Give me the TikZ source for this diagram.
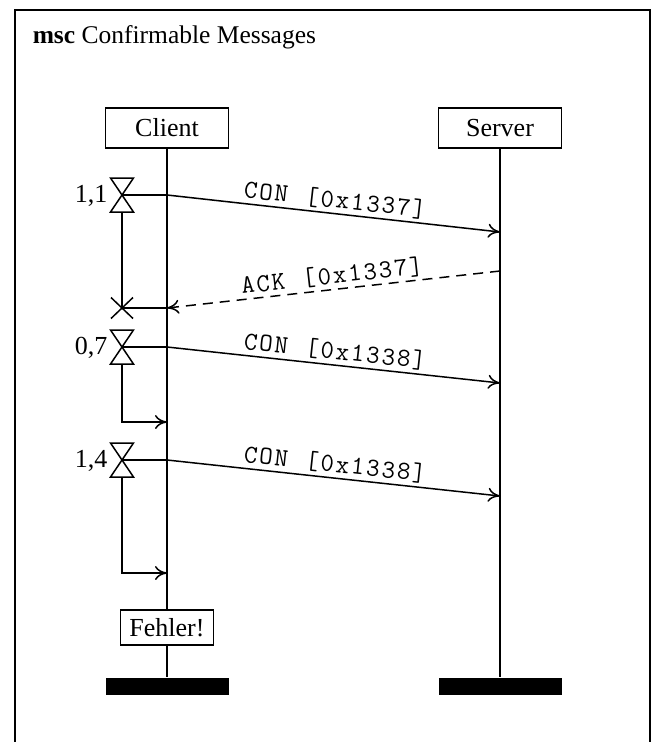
\documentclass[tikz,border=0pt]{standalone}
\usepackage{fontspec}
\setmainfont{Liberation Serif}
\usetikzlibrary{arrows.meta,calc}
\newcommand\spcd[1]{\xspcd#1\relax}
\newcommand\xspcd[1]{\ifx#1\relax\else\makebox[15.4pt]{#1}\expandafter\xspcd\fi}
\begin{document}
\begin{tikzpicture}[x=1pt,y=-1pt,line width=1.5pt,
  inst/.style={draw,line width=1.5pt,minimum width=123pt,minimum height=40pt,inner sep=0pt,font=\fontsize{26}{30}\selectfont},
  endbar/.style={fill=black,draw=none,minimum width=123pt,minimum height=17pt,inner sep=0pt},
  condbox/.style={draw,fill=white,line width=1.5pt,minimum width=93pt,minimum height=35pt,inner sep=0pt,font=\fontsize{26}{30}\selectfont},
  msg/.style={-{To[length=12pt,width=14pt]}},
  reply/.style={msg,dash pattern=on 10pt off 7pt},
  lbl/.style={above,sloped,inner sep=3pt,font=\fontsize{26}{30}\ttfamily},
  tlbl/.style={anchor=base east,inner sep=0pt,font=\fontsize{26}{30}\selectfont},
  hourglass/.pic={\draw (-11.5,-17) -- (11.5,-17) -- (0,0) -- cycle;
                  \draw (-11.5,17) -- (11.5,17) -- (0,0) -- cycle;},
  timeoutx/.pic={\draw (-11,-10.5) -- (11,10.5) (-11,10.5) -- (11,-10.5);}
]
\useasboundingbox (0,0) rectangle (655,742);
% frame
\draw[line width=1.6pt] (15,742) -- (15,10) -- (650,10) -- (650,742);
\node[anchor=base west,inner sep=0pt,font=\fontsize{25.5}{30}\selectfont] (title) at (32,43) {\textbf{msc} Confirmable Messages};
% instances
\node[inst] (client) at (167,128) {Client};
\node[inst] (server) at (500,128) {Server};
\node[endbar] (cbar) at (167,686.5) {};
\node[endbar] (sbar) at (500,686.5) {};
\draw (client.south) -- (client.south |- cbar.north);
\draw (server.south) -- (server.south |- sbar.north);
% event points
\coordinate (t1) at (122,195); \coordinate (c1) at (167,195); \coordinate (s1) at (500,232);
\coordinate (s2) at (500,271); \coordinate (c2) at (167,308); \coordinate (x1) at (122,308);
\coordinate (t2) at (122,347); \coordinate (c3) at (167,347); \coordinate (s3) at (500,383);
\coordinate (e2) at (122,422); \coordinate (c4) at (167,422);
\coordinate (t3) at (122,460); \coordinate (c5) at (167,460); \coordinate (s4) at (500,496);
\coordinate (e3) at (122,573); \coordinate (c6) at (167,573);
% timer 1
\pic at (t1) {hourglass};
\node[tlbl] (l1) at (108,202) {1,1};
\draw (t1) -- (c1);
\draw[msg] (c1) -- node[lbl] (m1) {\spcd{CON~[0x1337]}} (s1);
\draw[reply] (s2) -- node[lbl] (m2) {\spcd{ACK~[0x1337]}} (c2);
\draw ($(t1)+(0,17)$) -- (x1);
\pic at (x1) {timeoutx};
\draw (x1) -- (c2);
% timer 2
\pic at (t2) {hourglass};
\node[tlbl] (l2) at (108,354) {0,7};
\draw (t2) -- (c3);
\draw[msg] (c3) -- node[lbl] (m3) {\spcd{CON~[0x1338]}} (s3);
\draw[msg] ($(t2)+(0,17)$) -- (e2) -- (c4);
% timer 3
\pic at (t3) {hourglass};
\node[tlbl] (l3) at (108,467) {1,4};
\draw (t3) -- (c5);
\draw[msg] (c5) -- node[lbl] (m4) {\spcd{CON~[0x1338]}} (s4);
\draw[msg] ($(t3)+(0,17)$) -- (e3) -- (c6);
% condition
\node[condbox] (fehler) at (167,627.5) {Fehler!};
\end{tikzpicture}
\end{document}
